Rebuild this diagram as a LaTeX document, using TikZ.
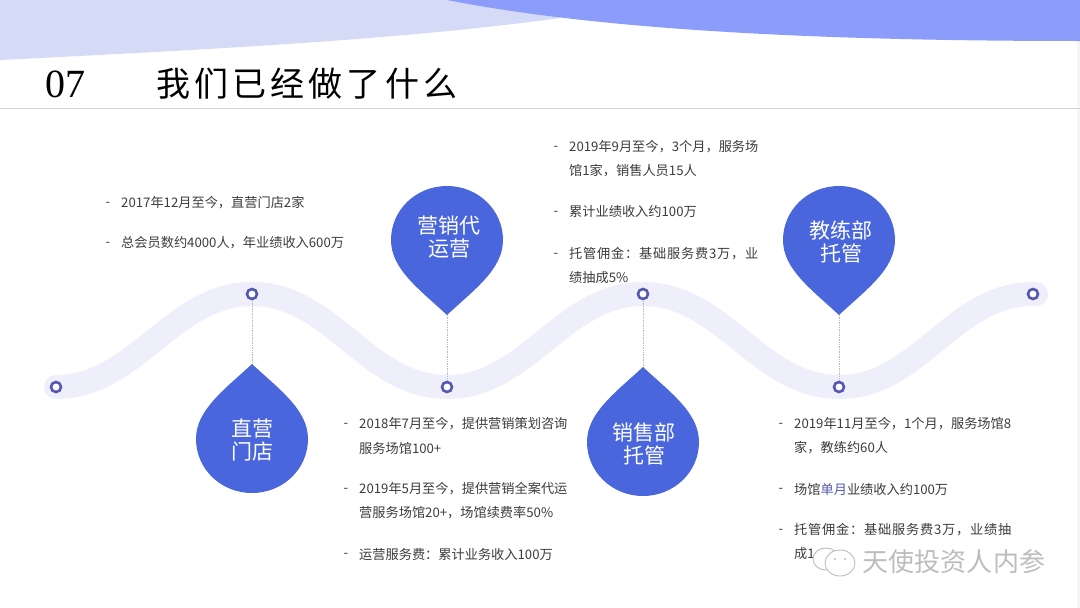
\documentclass[tikz,border=0pt]{standalone}
\usepackage{fontspec}
\setmainfont{Noto Sans CJK SC}
\newfontfamily\latinserif{Liberation Serif}
\definecolor{toplight}{HTML}{D5DBF7}
\definecolor{topdark}{HTML}{8B9CFB}
\definecolor{dropblue}{HTML}{4A66DD}
\definecolor{wavetint}{HTML}{EEEFFB}
\definecolor{ringblue}{HTML}{5558B0}
\definecolor{bodygray}{HTML}{3C3C3C}
\definecolor{markgray}{HTML}{BDBDBD}
\newcommand{\dropoutline}{(0,0) .. controls (-28,26) and (-56,46) .. (-56,75) .. controls (-56,105) and (-31,129) .. (0,129) .. controls (31,129) and (56,105) .. (56,75) .. controls (56,46) and (28,26) .. (0,0) -- cycle}
\newcommand{\spreadtext}[1]{\addfontfeature{LetterSpace=#1}}
\tikzset{
  bodytext/.style={anchor=west,inner sep=0pt,yshift=-1pt,text=bodygray,font=\fontsize{13.2}{15}\selectfont},
  dashmark/.style={anchor=center,inner sep=0pt,yshift=-2pt,text=bodygray,font=\fontsize{13.2}{15}\selectfont},
  droplabel/.style={anchor=center,inner sep=0pt,text=white,align=center,font=\fontsize{21}{23}\selectfont},
  ring/.style={circle,draw=ringblue,line width=2.6pt,fill=white,minimum size=10pt,inner sep=0pt},
  wave/.style={wavetint,line width=24pt,line cap=round},
  stem/.style={draw=black!28,line width=0.7pt,densely dotted},
  dropbody/.style={fill=dropblue,draw=none},
  bubble/.style={draw=markgray,line width=0.9pt,fill=white}
}
\begin{document}
\begin{tikzpicture}[x=1pt,y=-1pt]
\useasboundingbox (0,0) rectangle (1080,608);
\fill[white] (0,0) rectangle (1080,608);
\fill[black!4] (1077,0) rectangle (1080,608);
% top bands
\fill[toplight] (0,0) -- (0,60) .. controls (200,50) and (400,40) .. (560,18) -- (560,0) -- cycle;
\fill[topdark] (447,0) .. controls (600,30) and (820,41) .. (1080,41) -- (1080,0) -- cycle;
\draw[black!18,line width=1pt] (0,108) -- (1080,108);
% title
\node[anchor=west,inner sep=0pt,font=\latinserif\fontsize{40}{40}\selectfont] (num) at (45,84) {07};
\node[anchor=west,inner sep=0pt,font=\fontsize{34}{34}\selectfont] (title) at (156,84) {\makebox[301pt][s]{我\hfill 们\hfill 已\hfill 经\hfill 做\hfill 了\hfill 什\hfill 么}};
% wave
\coordinate (p0) at (56,387);
\coordinate (p1) at (252,294);
\coordinate (p2) at (447,387);
\coordinate (p3) at (643,294);
\coordinate (p4) at (839,387);
\coordinate (p5) at (1033,294);
\draw[wave] (p0) .. controls (136,387) and (172,294) .. (p1)
  .. controls (332,294) and (367,387) .. (p2)
  .. controls (527,387) and (563,294) .. (p3)
  .. controls (723,294) and (759,387) .. (p4)
  .. controls (919,387) and (953,294) .. (p5) -- ++(3,0);
% drops
\coordinate (tipa) at (252,364);
\coordinate (tipb) at (447,315);
\coordinate (tipc) at (643,367);
\coordinate (tipd) at (839,315);
\draw[stem] (p1) -- (tipa);
\draw[stem] (p2) -- (tipb);
\draw[stem] (p3) -- (tipc);
\draw[stem] (p4) -- (tipd);
\begin{scope}[shift={(tipa)}] \path[dropbody] \dropoutline; \end{scope}
\begin{scope}[shift={(tipb)},yscale=-1] \path[dropbody] \dropoutline; \end{scope}
\begin{scope}[shift={(tipc)}] \path[dropbody] \dropoutline; \end{scope}
\begin{scope}[shift={(tipd)},yscale=-1] \path[dropbody] \dropoutline; \end{scope}
\node[droplabel] (la) at (252,440) {直营\\门店};
\node[droplabel] (lb) at (449,237) {营销代\\运营};
\node[droplabel] (lc) at (644,444) {销售部\\托管};
\node[droplabel] (ld) at (841,242) {教练部\\托管};
% rings
\node[ring] (r0) at (p0) {};
\node[ring] (r1) at (p1) {};
\node[ring] (r2) at (p2) {};
\node[ring] (r3) at (p3) {};
\node[ring] (r4) at (p4) {};
\node[ring] (r5) at (p5) {};
% block 1
\node[dashmark] (da1) at (108,202) {-};
\node[bodytext] (ta1) at (121,202) {2017年12月至今，直营门店2家};
\node[dashmark] (da2) at (108,242) {-};
\node[bodytext] (ta2) at (121,242) {总会员数约4000人，年业绩收入600万};
% block 2
\node[dashmark] (db1) at (346,423) {-};
\node[bodytext] (tb1) at (359,423) {2018年7月至今，提供营销策划咨询};
\node[bodytext] (tb2) at (359,447) {服务场馆100+};
\node[dashmark] (db2) at (346,488) {-};
\node[bodytext] (tb3) at (359,488) {2019年5月至今，提供营销全案代运};
\node[bodytext] (tb4) at (359,512) {营服务场馆20+，场馆续费率50\%};
\node[dashmark] (db3) at (346,553) {-};
\node[bodytext] (tb5) at (359,553) {运营服务费：累计业务收入100万};
% block 3
\node[dashmark] (dc1) at (556,146) {-};
\node[bodytext] (tc1) at (569,146) {2019年9月至今，3个月，服务场};
\node[bodytext] (tc2) at (569,170) {馆1家，销售人员15人};
\node[dashmark] (dc2) at (556,211) {-};
\node[bodytext] (tc3) at (569,211) {累计业绩收入约100万};
\node[dashmark] (dc3) at (556,253) {-};
\node[bodytext] (tc4) at (569,253) {\spreadtext{6}托管佣金：基础服务费3万，业};
\node[bodytext] (tc5) at (569,277) {绩抽成5\%};
% block 4
\node[dashmark] (dd1) at (781,423) {-};
\node[bodytext] (td1) at (794,423) {2019年11月至今，1个月，服务场馆8};
\node[bodytext] (td2) at (794,447) {家，教练约60人};
\node[dashmark] (dd2) at (781,488) {-};
\node[bodytext] (td3) at (794,488) {场馆{\color{ringblue}单月}业绩收入约100万};
\node[dashmark] (dd3) at (781,529) {-};
\node[bodytext] (td4) at (794,529) {\spreadtext{6}托管佣金：基础服务费3万，业绩抽};
\node[bodytext] (td5) at (794,553) {成1};
% watermark
\draw[bubble] (826,559) ellipse (13 and 11);
\draw[bubble] (840,563) ellipse (15 and 13);
\fill[markgray] (835,559) circle (1.2) (845,559) circle (1.2);
\node[anchor=west,inner sep=0pt,text=markgray,font=\fontsize{26}{26}\selectfont] (mark) at (862,562) {\makebox[183pt][s]{天\hfill 使\hfill 投\hfill 资\hfill 人\hfill 内\hfill 参}};
\end{tikzpicture}
\end{document}
